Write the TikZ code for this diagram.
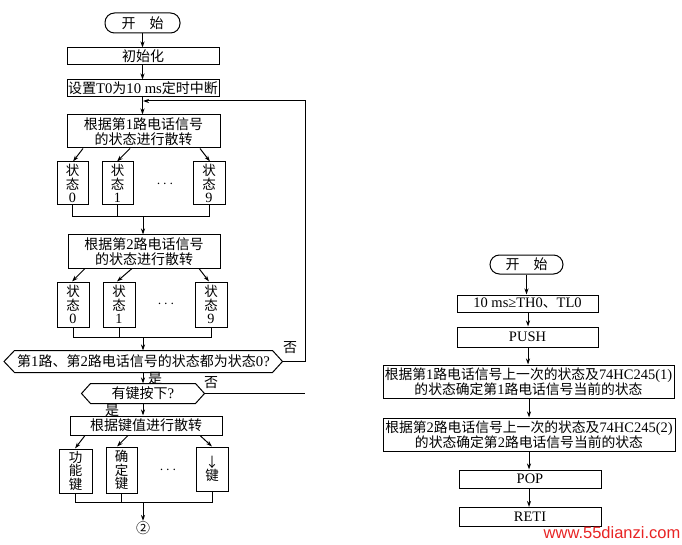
\documentclass[tikz,border=0pt]{standalone}
\usepackage{fontspec}
\setmainfont{Noto Sans CJK SC}
\newfontfamily\lat{Liberation Serif}[Scale=1.05]
\newfontfamily\wmfont{Liberation Sans}
\newcommand\en[1]{{\lat #1}}
\usetikzlibrary{arrows.meta,calc}
\definecolor{wmred}{RGB}{232,36,36}
\begin{document}
\begin{tikzpicture}[x=1pt,y=-1pt,
  line width=1pt,
  font=\fontsize{14}{15}\selectfont,
  box/.style={draw,rectangle,inner sep=0pt,align=center},
  rbox/.style={box,font=\fontsize{13.8}{15}\selectfont},
  term/.style={draw,rounded corners=9.5pt,inner sep=0pt,align=center},
  vbox/.style={box,font=\fontsize{13.5}{13.5}\selectfont},
  lbl/.style={inner sep=0pt},
  arr/.style={-{Stealth[length=6pt,width=4pt]}},
]
\useasboundingbox (0,0) rectangle (682,545);
% ---------------- left chart ----------------
\node[term,minimum width=75,minimum height=20] (start) at (142.5,23) {开\quad 始};
\node[box,minimum width=152,minimum height=17] (init) at (143,56.5) {初始化};
\node[box,minimum width=152,minimum height=17] (setT) at (143,88.5) {设置\en{T0}为\en{10 ms}定时中断};
\node[box,minimum width=153,minimum height=33] (s1) at (143.5,131.5) {根据第\en{1}路电话信号\\的状态进行散转};
\node[vbox,minimum width=31,minimum height=43] (a0) at (72.5,183.5) {状\\态\\\en{0}};
\node[vbox,minimum width=31,minimum height=43] (a1) at (117.5,183.5) {状\\态\\\en{1}};
\node[vbox,minimum width=32,minimum height=43] (a9) at (209,183.5) {状\\态\\\en{9}};
\node[lbl] (dots1) at (165,184) {$\cdots$};
\node[box,minimum width=152,minimum height=33] (s2) at (144,251.5) {根据第\en{2}路电话信号\\的状态进行散转};
\node[vbox,minimum width=32,minimum height=45] (b0) at (73,304.5) {状\\态\\\en{0}};
\node[vbox,minimum width=32,minimum height=45] (b1) at (119,304.5) {状\\态\\\en{1}};
\node[vbox,minimum width=32,minimum height=45] (b9) at (211,304.5) {状\\态\\\en{9}};
\node[lbl] (dots2) at (166,304) {$\cdots$};
% decision 1
\node[inner sep=0pt,minimum width=257,minimum height=21] (d1) at (143.5,361.5) {第\en{1}路、第\en{2}路电话信号的状态都为状态\en{0?}};
\draw ([xshift=-10.5pt]d1.west) coordinate (d1l) -- (d1.north west) -- (d1.north east)
  -- ([xshift=10pt]d1.east) coordinate (d1r) -- (d1.south east) -- (d1.south west) -- cycle;
% decision 2
\node[inner sep=0pt,minimum width=104,minimum height=19] (d2) at (143,393.5) {有键按下\en{?}};
\draw ([xshift=-9pt]d2.west) coordinate (d2l) -- (d2.north west) -- (d2.north east)
  -- ([xshift=9pt]d2.east) coordinate (d2r) -- (d2.south east) -- (d2.south west) -- cycle;
\node[box,minimum width=152,minimum height=19] (s3) at (146,425.5) {根据键值进行散转};
\node[vbox,minimum width=33,minimum height=44] (c0) at (75.5,471) {功\\能\\键};
\node[vbox,minimum width=31,minimum height=46] (c1) at (121.5,470) {确\\定\\键};
\node[vbox,minimum width=32,minimum height=44] (c9) at (212,469) {↓\\键};
\node[lbl] (dots3) at (168,470) {$\cdots$};
\node[lbl] (cont) at (143,528) {②};
% labels
\node[lbl] (y1) at (155,378) {是};
\node[lbl] (n1) at (290,348) {否};
\node[lbl] (n2) at (211,383) {否};
\node[lbl] (y2) at (112,410) {是};
% coordinates
\coordinate (m1) at (143,217);
\coordinate (m2) at (143,337);
\coordinate (m3) at (143,502);
\coordinate (loopTR) at (305,101);
\coordinate (loopIn) at (143,101);
% connectors
\draw[arr] (start) -- (start |- init.north);
\draw[arr] (init.south -| start) -- (start |- setT.north);
\draw[arr] (setT.south -| start) -- (start |- s1.north);
\draw[arr] (s1.south -| 83,0) -- (a0.north -| 73,0);
\draw[arr] (s1.south -| 130,0) -- (a1.north -| 117,0);
\draw[arr] (s1.south -| 200,0) -- (a9.north -| 210,0);
\draw (a0.south) -- (a0.south |- m1) -- (a9.south |- m1) -- (a9.south);
\draw (a1.south) -- (a1.south |- m1);
\draw[arr] (m1) -- (m1 |- s2.north);
\draw[arr] (s2.south -| 85,0) -- (b0.north -| 72,0);
\draw[arr] (s2.south -| 132,0) -- (b1.north -| 117,0);
\draw[arr] (s2.south -| 199,0) -- (b9.north -| 209,0);
\draw (b0.south) -- (b0.south |- m2) -- (b9.south |- m2) -- (b9.south);
\draw (b1.south) -- (b1.south |- m2);
\draw[arr] (m2) -- (m2 |- d1.north);
\draw[arr] (d1.south -| m2) -- (m2 |- d2.north);
\draw[arr] (d2.south -| m2) -- (m2 |- s3.north);
\draw[arr] (s3.south -| 85,0) -- (c0.north -| 75,0);
\draw[arr] (s3.south -| 128,0) -- (c1.north -| 117,0);
\draw[arr] (s3.south -| 200,0) -- (c9.north -| 212,0);
\draw (c0.south) -- (c0.south |- m3) -- (c9.south |- m3) -- (c9.south);
\draw (c1.south) -- (c1.south |- m3);
\draw[arr] (m3) -- (cont.north);
% loop back
\draw[arr] (d1r) -- (d1r -| loopTR) -- (loopTR) -- (loopIn);
\draw (d2r) -- (d2r -| loopTR);
% ---------------- right chart ----------------
\node[term,minimum width=73,minimum height=19] (rstart) at (526.5,264.5) {开\quad 始};
\node[rbox,minimum width=141,minimum height=17] (r1) at (527.5,303.5) {\en{10 ms≥TH0}、\en{TL0}};
\node[rbox,minimum width=141,minimum height=20] (push) at (527.5,337) {\en{PUSH}};
\node[rbox,minimum width=291,minimum height=33] (big1) at (528.5,381.5) {根据第\en{1}路电话信号上一次的状态及\en{74HC245(1)}\\的状态确定第\en{1}路电话信号当前的状态};
\node[rbox,minimum width=292,minimum height=33] (big2) at (529,434.5) {根据第\en{2}路电话信号上一次的状态及\en{74HC245(2)}\\的状态确定第\en{2}路电话信号当前的状态};
\node[rbox,minimum width=142,minimum height=18] (pop) at (530,479) {\en{POP}};
\node[rbox,minimum width=142,minimum height=19] (reti) at (530,517) {\en{RETI}};
\draw[arr] (rstart) -- (rstart |- r1.north);
\draw[arr] (r1.south -| 528,0) -- (528,0 |- push.north);
\draw[arr] (push.south -| 528,0) -- (528,0 |- big1.north);
\draw[arr] (big1.south -| 529,0) -- (529,0 |- big2.north);
\draw[arr] (big2.south -| 529,0) -- (529,0 |- pop.north);
\draw[arr] (pop.south -| 529,0) -- (529,0 |- reti.north);
% watermark
\node[lbl,text=wmred,font=\wmfont\fontsize{16.5}{18}\selectfont] (wm) at (612,533) {www.55dianzi.com};
\end{tikzpicture}
\end{document}
